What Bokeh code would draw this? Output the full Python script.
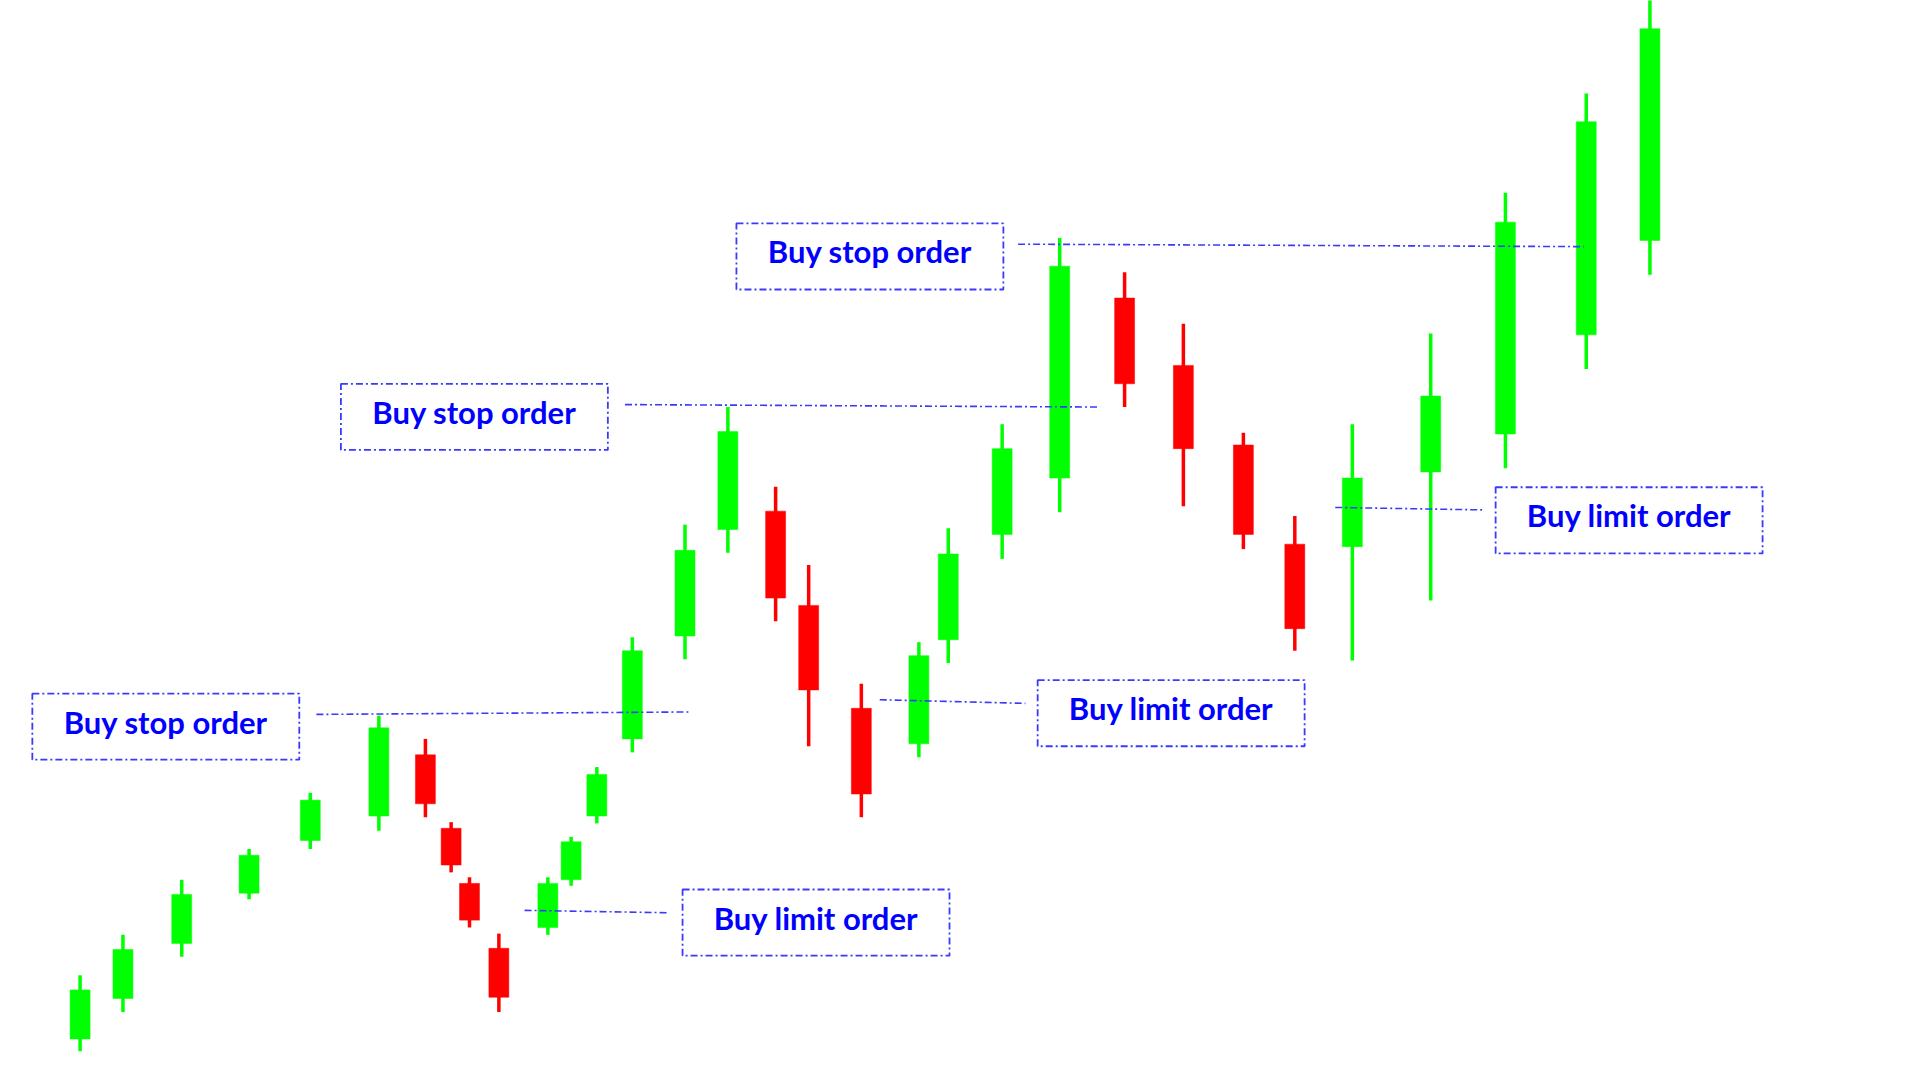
from bokeh.plotting import figure
from bokeh.models import Range1d, ColumnDataSource
from bokeh.core.properties import value
from bokeh.embed import file_html
from bokeh.resources import INLINE

# ---- data (price units) ----
t     = [65, 100, 148, 203, 253, 309, 347, 368, 383, 407, 447, 466, 487, 516, 559, 594,
         633, 660, 703, 750, 774, 818, 865, 918, 966, 1015, 1057, 1104, 1168, 1229, 1295, 1347]
open_ = [34, 67, 112, 153, 196, 216, 266, 206, 161, 108, 125, 164, 216, 279, 363, 450,
         465, 388, 304, 275, 360, 446, 492, 639, 584, 519, 438, 436, 497, 528, 609, 686]
high  = [86, 119, 164, 189, 235, 298, 279, 211, 166, 120, 166, 199, 256, 362, 454, 550,
         485, 421, 324, 358, 451, 536, 688, 660, 618, 529, 461, 536, 610, 725, 806, 890]
low   = [24, 56, 101, 148, 189, 204, 215, 170, 125, 56, 119, 159, 210, 268, 344, 431,
         375, 273, 215, 264, 341, 426, 464, 550, 469, 434, 351, 343, 392, 500, 581, 658]
close = [74, 107, 152, 184, 229, 288, 226, 176, 131, 68, 161, 195, 250, 351, 433, 530,
         394, 319, 234, 347, 430, 516, 665, 569, 516, 446, 369, 492, 559, 701, 783, 859]

labels      = ["Buy stop order", "Buy stop order", "Buy stop order",
               "Buy limit order", "Buy limit order", "Buy limit order"]
label_x     = [135, 387, 710, 666, 956, 1330]
label_y     = [289, 542, 673, 129, 300, 457.5]
level_x0    = [258, 510, 831, 428, 718, 1090]
level_x1    = [563, 898, 1293, 546, 837, 1210]
level_y0    = [299, 552, 683, 139, 311, 468]
level_y1    = [301, 550, 681, 137, 308, 466]

GREEN = "#00ff00"
RED = "#ff0000"
colors = [GREEN if c >= o else RED for o, c in zip(open_, close)]
top = [max(o, c) for o, c in zip(open_, close)]
bot = [min(o, c) for o, c in zip(open_, close)]

src = ColumnDataSource(dict(t=t, high=high, low=low, top=top, bot=bot, color=colors))

p = figure(width=1904, height=1064,
           x_range=Range1d(0, 1554.9), y_range=Range1d(13.1, 882),
           output_backend="svg", toolbar_location=None, min_border=0)
p.axis.visible = False
p.grid.visible = False
p.outline_line_color = None
p.background_fill_color = "white"
p.border_fill_color = "white"

p.segment(x0="t", x1="t", y0="low", y1="high", line_color="color", line_width=3.5, source=src)
p.vbar(x="t", width=16.3, top="top", bottom="bot", fill_color="color", line_color="color",
       line_width=0.5, source=src)

BLUE_LINE = "#3a3aff"
lsrc = ColumnDataSource(dict(x0=level_x0, x1=level_x1, y0=level_y0, y1=level_y1))
p.segment(x0="x0", x1="x1", y0="y0", y1="y1", line_color=BLUE_LINE, line_width=1.6,
          line_dash="7 3 2 3", source=lsrc)

asrc = ColumnDataSource(dict(x=label_x, y=label_y, text=labels))
p.rect(x="x", y="y", width=218, height=54, fill_color=None, line_color=BLUE_LINE,
       line_width=1.8, line_dash="7 3 2 3", source=asrc)
p.text(x="x", y="y", text="text", text_align="center", text_baseline="middle",
       y_offset=-5,
       text_font=value("Lato"), text_font_style="bold", text_font_size="31px",
       text_color="#0000ff", source=asrc)

open("out.html", "w").write(file_html(p, INLINE))
